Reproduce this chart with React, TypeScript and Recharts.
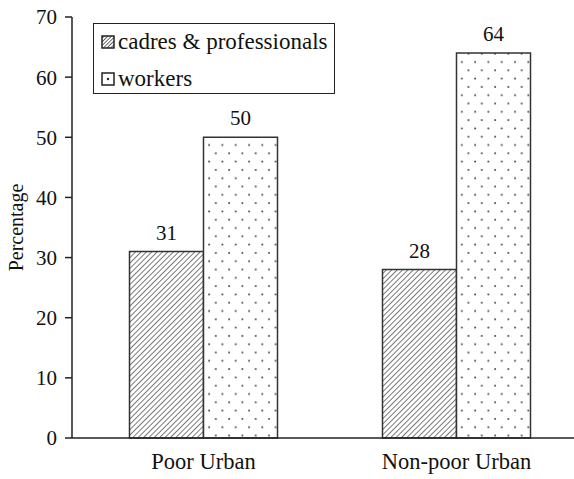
import React from 'react';
import { BarChart, Bar, XAxis, YAxis, LabelList } from 'recharts';

// page has 8px margin by default; the chart is placed flush to the corner
if (typeof document !== 'undefined') {
  document.body.style.margin = '0';
  document.body.style.overflow = 'hidden';
}

const categories = ['Poor Urban', 'Non-poor Urban'];
const cadres = [31, 28];
const workers = [50, 64];
const yTicks = [0, 10, 20, 30, 40, 50, 60, 70];

const data = categories.map((name, i) => ({
  name,
  cadres: cadres[i],
  workers: workers[i],
}));

const FONT = '"Liberation Serif", "Times New Roman", serif';

const Patterns = () => (
  <defs>
    <pattern id="hatch" width="3.8" height="3.8" patternUnits="userSpaceOnUse" patternTransform="rotate(45)">
      <rect width="3.8" height="3.8" fill="#fff" />
      <line x1="0" y1="0" x2="0" y2="3.8" stroke="#333" strokeWidth="1.3" />
    </pattern>
    <pattern id="dots" width="13.3" height="16.6" patternUnits="userSpaceOnUse">
      <rect width="13.3" height="16.6" fill="#fff" />
      <circle cx="3" cy="4" r="1" fill="#444" />
      <circle cx="9.65" cy="12.3" r="1" fill="#444" />
    </pattern>
  </defs>
);

// legend drawn as an overlay so it does not push the plot down
const LegendBox = () => (
  <div
    style={{
      position: 'absolute',
      left: 93,
      top: 23,
      border: '1.5px solid #222',
      width: 242,
      height: 71,
      fontFamily: FONT,
      fontSize: 23,
      color: '#111',
      boxSizing: 'border-box',
      paddingLeft: 7,
      lineHeight: '22px',
      background: '#fff',
    }}
  >
    <div style={{ display: 'flex', alignItems: 'center', marginTop: 6, height: 24, whiteSpace: 'nowrap' }}>
      <svg width="14" height="14" style={{ marginRight: 3, flexShrink: 0 }}>
        <defs>
          <pattern id="hatchSmall" width="2.6" height="2.6" patternUnits="userSpaceOnUse" patternTransform="rotate(45)">
            <rect width="2.6" height="2.6" fill="#fff" />
            <line x1="0" y1="0" x2="0" y2="2.6" stroke="#222" strokeWidth="1.3" />
          </pattern>
        </defs>
        <rect x="1" y="1" width="12" height="12" fill="url(#hatchSmall)" stroke="#222" strokeWidth="1.5" />
      </svg>
      cadres &amp; professionals
    </div>
    <div style={{ display: 'flex', alignItems: 'center', marginTop: 13, height: 24 }}>
      <svg width="14" height="14" style={{ marginRight: 3, flexShrink: 0 }}>
        <rect x="1" y="1" width="12" height="12" fill="#fff" stroke="#222" strokeWidth="1.5" />
        <circle cx="7" cy="7" r="1.2" fill="#222" />
      </svg>
      workers
    </div>
  </div>
);

export default function App() {
  return (
    <div style={{ position: 'relative', width: 574, height: 479, overflow: 'hidden', background: '#fff' }}>
      <BarChart
        width={583}
        height={479}
        data={data}
        margin={{ top: 17, right: 0, bottom: 0, left: 0 }}
        barCategoryGap="20.75%"
        barGap={0}
      >
        <Patterns />
        <XAxis
          dataKey="name"
          height={41}
          tickLine={false}
          axisLine={{ stroke: '#222', strokeWidth: 1.5 }}
          padding={{ left: 5, right: 0 }}
          tick={{ fill: '#111', fontSize: 22.5, fontFamily: FONT }}
          tickMargin={9}
        />
        <YAxis
          width={72}
          domain={[0, 70]}
          ticks={yTicks}
          interval={0}
          tickSize={7}
          tickMargin={8}
          axisLine={{ stroke: '#222', strokeWidth: 1.5 }}
          tickLine={{ stroke: '#222', strokeWidth: 1.5 }}
          tick={{ fill: '#111', fontSize: 21, fontFamily: FONT }}
          label={{
            value: 'Percentage',
            angle: -90,
            position: 'insideLeft',
            offset: 16,
            style: { textAnchor: 'middle', fill: '#111', fontSize: 20, fontFamily: FONT },
          }}
        />
        <Bar dataKey="cadres" fill="url(#hatch)" stroke="#333" strokeWidth={1.5} isAnimationActive={false}>
          <LabelList dataKey="cadres" position="top" offset={12} style={{ fill: '#111', fontSize: 21, fontFamily: FONT }} />
        </Bar>
        <Bar dataKey="workers" fill="url(#dots)" stroke="#333" strokeWidth={1.5} isAnimationActive={false}>
          <LabelList dataKey="workers" position="top" offset={12} style={{ fill: '#111', fontSize: 21, fontFamily: FONT }} />
        </Bar>
      </BarChart>
      <LegendBox />
    </div>
  );
}
